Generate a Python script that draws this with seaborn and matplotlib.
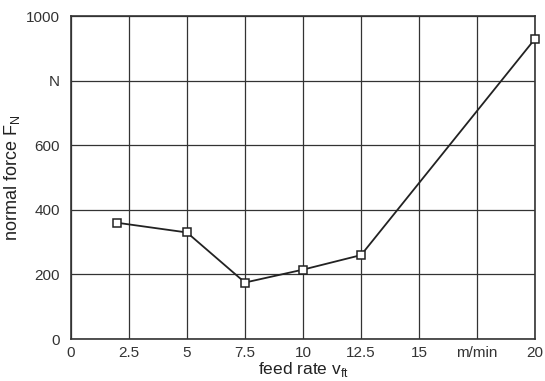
import matplotlib
matplotlib.use("Agg")
import matplotlib.pyplot as plt
import seaborn as sns
import pandas as pd

feed_rate = [2, 5, 7.5, 10, 12.5, 20]
normal_force = [360, 330, 175, 215, 260, 930]
x_ticks = [0, 2.5, 5, 7.5, 10, 12.5, 15, 17.5, 20]
x_tick_labels = ["0", "2.5", "5", "7.5", "10", "12.5", "15", "m/min", "20"]
y_ticks = [0, 200, 400, 600, 800, 1000]
y_tick_labels = ["0", "200", "400", "600", "N", "1000"]

sns.set_style("white")
plt.rcParams['font.family'] = ['Liberation Sans', 'DejaVu Sans']
plt.rcParams['mathtext.fontset'] = 'custom'
plt.rcParams['mathtext.rm'] = 'Liberation Sans'

df = pd.DataFrame({"x": feed_rate, "y": normal_force})

fig = plt.figure(figsize=(5.45, 3.81), dpi=100)
ax = fig.add_axes([0.130, 0.110, 0.852, 0.848])
sns.lineplot(data=df, x="x", y="y", ax=ax, color="#222222", linewidth=1.3,
             marker="s", markersize=5.5, markerfacecolor="white",
             markeredgecolor="#222222", markeredgewidth=1.1, zorder=3,
             clip_on=False)

ax.set_xlim(0, 20)
ax.set_ylim(0, 1000)
ax.set_xticks(x_ticks)
ax.set_xticklabels(x_tick_labels)
ax.set_yticks(y_ticks)
ax.set_yticklabels(y_tick_labels)
ax.grid(True, color="#333333", linewidth=0.9)
for s in ax.spines.values():
    s.set_color("#333333")
    s.set_linewidth(1.2)
ax.tick_params(axis="both", length=0, labelsize=11, colors="#333333")
ax.tick_params(axis="x", pad=5)
ax.tick_params(axis="y", pad=8)
ax.set_xlabel(r"feed rate v$_\mathrm{ft}$", fontsize=12.5, color="#222222", labelpad=0)
ax.set_ylabel(r"normal force F$_\mathrm{N}$", fontsize=13, color="#222222", labelpad=3)

fig.savefig("out.png", dpi=100)
